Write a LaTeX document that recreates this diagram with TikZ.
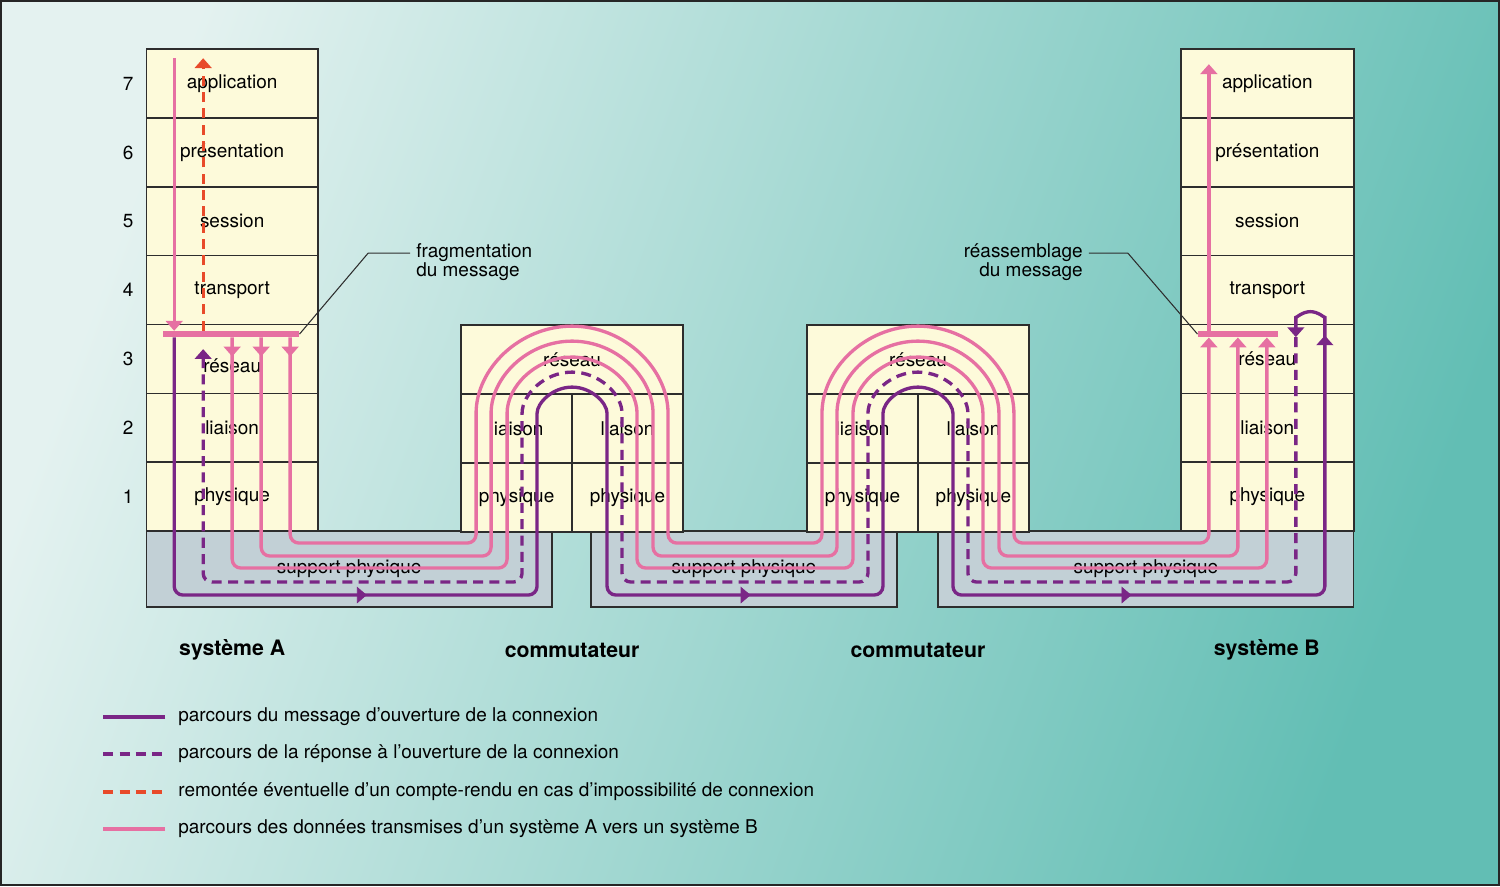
\documentclass[tikz,border=0pt]{standalone}
\usepackage{fontspec}
\setmainfont{TeX Gyre Heros}
\usetikzlibrary{arrows.meta,positioning,decorations.markings}
\definecolor{cream}{RGB}{253,250,218}
\definecolor{suppfill}{RGB}{194,208,214}
\definecolor{framegray}{RGB}{45,45,45}
\definecolor{datapink}{RGB}{230,112,162}
\definecolor{openpurple}{RGB}{122,38,134}
\definecolor{errred}{RGB}{232,74,42}
\definecolor{bglight}{RGB}{228,242,240}
\definecolor{bgmid}{RGB}{168,216,210}
\definecolor{bgdark}{RGB}{98,190,180}
\newcommand{\layerfont}{\fontsize{10.8}{11.3}\selectfont}
\newcommand{\sysfont}{\fontsize{12.1}{13}\selectfont\bfseries}

\tikzset{
  layer/.style={draw=framegray, line width=0.8pt, fill=cream, inner sep=0pt,
    minimum height=1.38cm, font=\layerfont},
  support/.style={draw=framegray, line width=0.8pt, fill=suppfill, inner sep=0pt,
    minimum height=1.52cm, font=\layerfont},
  bar/.style={fill=datapink, inner sep=0pt, minimum height=0.12cm},
  tipA/.tip={Triangle[width=9.5pt,length=5.6pt]},
  dataline/.style={datapink, line width=1.9pt, rounded corners=5pt},
  openline/.style={openpurple, line width=1.9pt, rounded corners=5pt},
  replyline/.style={openpurple, line width=1.9pt, rounded corners=5pt,
    dash pattern=on 5.7pt off 3.6pt},
  errline/.style={errred, line width=1.9pt, dash pattern=on 5.7pt off 3.6pt},
  midtip/.style={postaction={decorate}, decoration={markings,
    mark=at position #1 with {\arrow{tipA}}}},
  leader/.style={framegray, line width=0.6pt},
  legend/.style={anchor=west, font=\layerfont}
}

\begin{document}
\begin{tikzpicture}[x=0.02cm, y=0.02cm]
% fond
\shade[left color=bglight, middle color=bgmid, right color=bgdark, shading angle=70] (0,0) rectangle (1500,-886);
\draw[black!85, line width=1.4pt] (1,-1) rectangle (1499,-885);
\useasboundingbox (0,0) rectangle (1500,-886);

% supports physiques
\node[support, minimum width=8.12cm] (suppA) at (349,-569) {support physique};
\node[support, minimum width=6.12cm] (suppM) at (744,-569) {support physique};
\node[support, minimum width=8.32cm] (suppB) at (1146,-569) {support physique};

% systeme A et systeme B
\foreach \txt [count=\i from 0] in {application,présentation,session,transport,{\raisebox{-0.28cm}[0pt][0pt]{réseau}},liaison,physique}
  \node[layer, minimum width=3.44cm] (A\i) at (232,{-49-68.86*(\i+0.5)}) {\txt};
\foreach \txt [count=\i from 0] in {application,présentation,session,transport,réseau,liaison,physique}
  \node[layer, minimum width=3.46cm] (B\i) at (1267.5,{-49-68.86*(\i+0.5)}) {\txt};
\foreach \n [count=\i from 0] in {7,6,...,1}
  \node[font=\layerfont] (num\n) at (128,{-49-68.86*(\i+0.5)}) {\n};

% commutateurs
\foreach \cx/\sw in {572/S, 918/T} {
  \node[layer, minimum width=4.44cm] (\sw res) at (\cx,-359.5) {réseau};
  \node[layer, minimum width=2.22cm] (\sw lia1) at ({\cx-55.5},-428.5) {liaison};
  \node[layer, minimum width=2.22cm] (\sw lia2) at ({\cx+55.5},-428.5) {liaison};
  \node[layer, minimum width=2.22cm] (\sw phy1) at ({\cx-55.5},-497.5) {physique};
  \node[layer, minimum width=2.22cm] (\sw phy2) at ({\cx+55.5},-497.5) {physique};
}

% barres de fragmentation / reassemblage
\node[bar, minimum width=2.72cm] (barA) at (231,-334) {};
\node[bar, minimum width=1.6cm] (barB) at (1238,-334) {};

% legendes des barres
\node[anchor=west, align=left, font=\layerfont] (frag) at (410,-262) {fragmentation\\du message};
\node[anchor=east, align=right, font=\layerfont] (reas) at (1089,-262) {réassemblage\\du message};
\coordinate (fragK) at (368,-253);
\coordinate (reasK) at (1128,-253);
\draw[leader] (barA.east) -- (fragK) -- (fragK -| frag.west);
\draw[leader] (barB.west) -- (reasK) -- (reasK -| reas.east);

% donnees A -> B
\coordinate (dataTop) at (174,-58);
\coordinate (errTop) at (203,-58);
\draw[dataline, -{tipA}] (dataTop) -- (barA.north -| 174,0);
\draw[errline, -{tipA}] (barA.north -| 203,0) -- (errTop);
\foreach \xa/\ly/\r/\xb in {290/543/96/1209, 261/556/81/1238, 232/568/65/1267}
  \draw[dataline, midtip=0.38cm, -{tipA}] (barA.south -| \xa,0) -- (\xa,-\ly)
    -- ({572-\r},-\ly) -- ({572-\r},-422) arc[start angle=180, end angle=0, radius=\r]
    -- ({572+\r},-\ly) -- ({918-\r},-\ly) -- ({918-\r},-422) arc[start angle=180, end angle=0, radius=\r]
    -- ({918+\r},-\ly) -- (\xb,-\ly) -- (barB.south -| \xb,0);
\draw[dataline, -{tipA}] (barB.north -| 1209,0) -- (1209,-64);

% message d'ouverture
\coordinate (loopB) at (1296,-337);
\draw[openline, midtip=-1.39cm, -{tipA}] (barA.south -| 174,0) -- (174,-595)
  -- (537,-595) -- (537,-422) arc[start angle=180, end angle=0, radius=35]
  -- (607,-595) -- (883,-595) -- (883,-422) arc[start angle=180, end angle=0, radius=35]
  -- (953,-595) -- (1325,-595) -- (1325,-326) arc[start angle=0, end angle=180, radius=14.5]
  -- (loopB);
\path[openpurple, midtip=0.565] (suppA.west |- 0,-595) -- (537,-595);
\path[openpurple, midtip=0.52] (607,-595) -- (883,-595);
\path[openpurple, midtip=0.48] (953,-595) -- (1325,-595);

% reponse
\coordinate (replyA) at (203,-349);
\draw[replyline, -{tipA}] (loopB) -- (1296,-582) -- (968,-582) -- (968,-422)
  arc[start angle=0, end angle=180, radius=50] -- (868,-582) -- (622,-582) -- (622,-422)
  arc[start angle=0, end angle=180, radius=50] -- (522,-582) -- (203,-582) -- (replyA);

% noms des systemes
\node[font=\sysfont] (sysA) at (232,-650) {système A};
\node[font=\sysfont] (com1) at (572,-650) {commutateur};
\node[font=\sysfont] (com2) at (918,-650) {commutateur};
\node[font=\sysfont] (sysB) at (1267,-650) {système B};

% legende
\node[legend] (leg1) at (172,-717) {parcours du message d’ouverture de la connexion};
\node[legend] (leg2) at (172,-754) {parcours de la réponse à l’ouverture de la connexion};
\node[legend] (leg3) at (172,-792) {remontée éventuelle d’un compte-rendu en cas d’impossibilité de connexion};
\node[legend] (leg4) at (172,-829) {parcours des données transmises d’un système A vers un système B};
\draw[openline] ([xshift=-0.14cm]leg1.west) -- ++(-1.24cm,0);
\draw[replyline] ([xshift=-1.38cm]leg2.west) -- ++(1.24cm,0);
\draw[errline] ([xshift=-1.38cm]leg3.west) -- ++(1.24cm,0);
\draw[dataline] ([xshift=-0.14cm]leg4.west) -- ++(-1.24cm,0);
\end{tikzpicture}
\end{document}
